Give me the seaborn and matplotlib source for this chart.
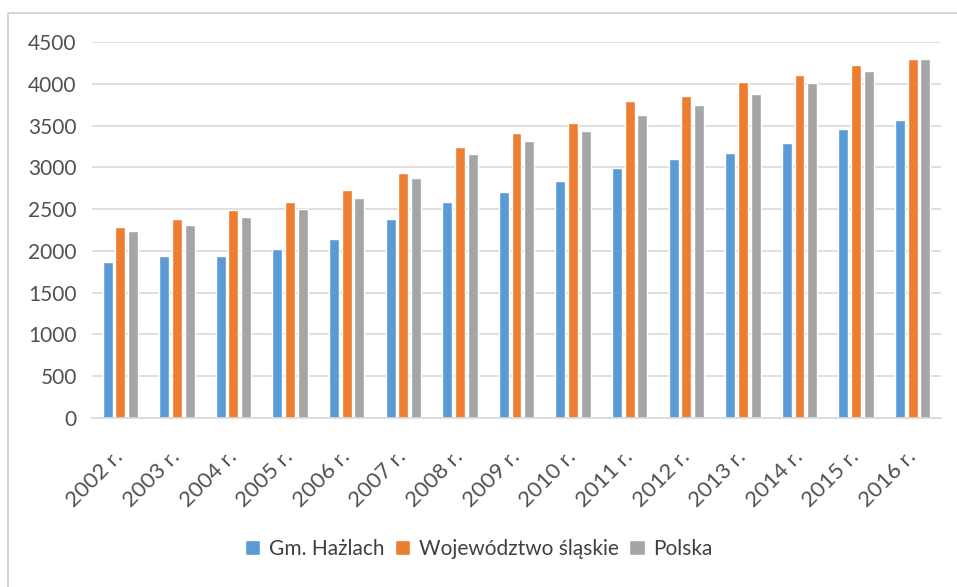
import numpy as np
import pandas as pd
import seaborn as sns
import matplotlib.pyplot as plt
from matplotlib.patches import Rectangle

# data
years = ['2002 r.', '2003 r.', '2004 r.', '2005 r.', '2006 r.', '2007 r.', '2008 r.',
         '2009 r.', '2010 r.', '2011 r.', '2012 r.', '2013 r.', '2014 r.', '2015 r.', '2016 r.']
hazlach = [1864, 1940, 1940, 2024, 2140, 2384, 2580, 2708, 2840, 2988, 3100, 3176, 3292, 3456, 3572]
slaskie = [2292, 2380, 2492, 2588, 2732, 2932, 3244, 3408, 3528, 3800, 3860, 4024, 4104, 4228, 4300]
polska = [2236, 2312, 2408, 2504, 2636, 2868, 3156, 3320, 3440, 3628, 3748, 3880, 4008, 4156, 4292]
series = ['Gm. Hażlach', 'Województwo śląskie', 'Polska']
colors = ['#5B9BD5', '#ED7D31', '#A5A5A5']

df = pd.DataFrame({
    'rok': years * 3,
    'wartosc': hazlach + slaskie + polska,
    'seria': [series[0]] * 15 + [series[1]] * 15 + [series[2]] * 15,
})

sns.set_style('white')
plt.rcParams['font.family'] = ['Lato', 'DejaVu Sans']
text_col = '#505050'

fig = plt.figure(figsize=(9.57, 5.87), dpi=100)
ax = fig.add_axes([0.0961, 0.2879, 0.8872, 0.6405])

sns.barplot(data=df, x='rok', y='wartosc', hue='seria', palette=colors,
            width=0.672, gap=0.214, saturation=1, ax=ax, legend=True)

ax.set_ylim(0, 4500)
ax.set_xlim(-0.5, len(years) - 0.5)
ax.set_yticks(np.arange(0, 4501, 500))
ax.yaxis.grid(True, color='#d9d9d9', linewidth=1.2)
ax.set_axisbelow(True)
for s in ['top', 'right', 'left']:
    ax.spines[s].set_visible(False)
ax.spines['bottom'].set_color('#d9d9d9')
ax.spines['bottom'].set_linewidth(1.2)
ax.set_xlabel('')
ax.set_ylabel('')
ax.tick_params(axis='y', labelsize=15, labelcolor=text_col, length=0, pad=11)
ax.tick_params(axis='x', labelsize=16, labelcolor=text_col, length=0, pad=26)
plt.setp(ax.get_xticklabels(), rotation=45, ha='right', va='center', rotation_mode='anchor')

handles, labels = ax.get_legend_handles_labels()
ax.get_legend().remove()
fig.legend(handles, labels, loc='center', bbox_to_anchor=(0.5, 0.0647), ncol=3, frameon=False,
           fontsize=15, labelcolor='#404040', handlelength=0.75, handleheight=0.75,
           handletextpad=0.4, columnspacing=0.5)

# chart border
fig.patches.append(Rectangle((8 / 957, -0.1), 1.2, 1.1 - 13 / 587, transform=fig.transFigure,
                             fill=False, edgecolor='#d0d0d0', linewidth=1.2))

fig.savefig('out.png', dpi=100)
